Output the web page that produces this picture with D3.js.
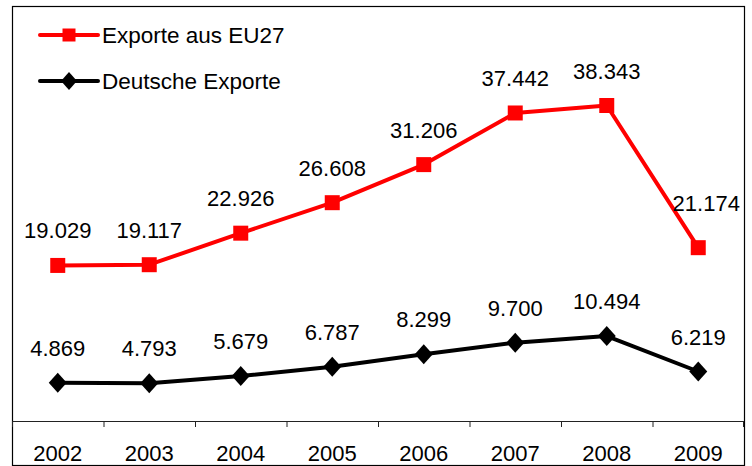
<!DOCTYPE html>
<html>
<head>
<meta charset="utf-8">
<script src="https://cdn.jsdelivr.net/npm/d3@7"></script>
<style>
  body { margin: 0; background: #fff; }
  text { font-family: "Liberation Sans", Arial, sans-serif; fill: #000; }
</style>
</head>
<body>
<script>
const years = ["2002", "2003", "2004", "2005", "2006", "2007", "2008", "2009"];
const euExports = [19.029, 19.117, 22.926, 26.608, 31.206, 37.442, 38.343, 21.174];
const deExports = [4.869, 4.793, 5.679, 6.787, 8.299, 9.700, 10.494, 6.219];
const seriesNames = ["Exporte aus EU27", "Deutsche Exporte"];
const yDomain = [0, 50];

const width = 752, height = 466;
const frameL = 12, frameR = 744, frameT = 6, frameB = 465, axisY = 421;
const fontSize = 22;

const svg = d3.select("body").append("svg")
  .attr("width", width)
  .attr("height", height);

// frame
svg.append("rect")
  .attr("x", frameL + 0.5)
  .attr("y", frameT + 0.5)
  .attr("width", frameR - frameL)
  .attr("height", frameB - frameT)
  .attr("fill", "#fff")
  .attr("stroke", "#000")
  .attr("stroke-width", 1.2);

const x = d3.scaleBand().domain(years).range([frameL, frameR]).padding(0);
const y = d3.scaleLinear().domain(yDomain).range([423, 9]);

const cx = (d, i) => x(years[i]) + x.bandwidth() / 2;

// category axis: line, boundary ticks, labels
svg.append("line")
  .attr("x1", frameL).attr("x2", frameR)
  .attr("y1", axisY + 0.5).attr("y2", axisY + 0.5)
  .attr("stroke", "#222");

const boundaries = years.map(d => x(d)).concat([x.range()[1]]);
svg.selectAll(".tick")
  .data(boundaries)
  .enter()
  .append("line")
  .attr("class", "tick")
  .attr("x1", d => Math.min(d, frameR - 1) + 0.5)
  .attr("x2", d => Math.min(d, frameR - 1) + 0.5)
  .attr("y1", axisY)
  .attr("y2", axisY + 6)
  .attr("stroke", "#222");

svg.selectAll(".year")
  .data(years)
  .enter()
  .append("text")
  .attr("class", "year")
  .attr("x", d => x(d) + x.bandwidth() / 2)
  .attr("y", 461)
  .attr("text-anchor", "middle")
  .style("font-size", fontSize + "px")
  .text(d => d);

const line = d3.line().x(cx).y(d => y(d));
const fmt = d3.format(".3f");

function drawSeries(values, color, marker, nudgeLast) {
  svg.append("path")
    .datum(values)
    .attr("d", line)
    .attr("fill", "none")
    .attr("stroke", color)
    .attr("stroke-width", 4)
    .attr("stroke-linejoin", "round");

  svg.selectAll(null)
    .data(values)
    .enter()
    .append("path")
    .attr("transform", (d, i) => `translate(${cx(d, i)},${y(d)})`)
    .attr("d", marker)
    .attr("fill", color);

  const last = values.length - 1;
  svg.selectAll(null)
    .data(values)
    .enter()
    .append("text")
    .attr("x", (d, i) => cx(d, i) + (nudgeLast && i === last ? 8 : 0))
    .attr("y", (d, i) => y(d) - 27 - (nudgeLast && i === last ? 10 : 0))
    .attr("text-anchor", "middle")
    .style("font-size", fontSize + "px")
    .text(d => fmt(d));
}

const square = s => `M${-s / 2},${-s / 2}h${s}v${s}h${-s}Z`;
const diamond = (w, h) => `M0,${-h}L${w},0L0,${h}L${-w},0Z`;

drawSeries(euExports, "#ff0000", square(15), true);
drawSeries(deExports, "#000000", diamond(9, 10), false);

// legend
const legend = [
  { name: seriesNames[0], color: "#ff0000", marker: square(13), y: 35 },
  { name: seriesNames[1], color: "#000000", marker: diamond(8, 9), y: 81 }
];
legend.forEach(l => {
  svg.append("line")
    .attr("x1", 40).attr("x2", 98)
    .attr("y1", l.y).attr("y2", l.y)
    .attr("stroke", l.color)
    .attr("stroke-width", 4)
    .attr("stroke-linecap", "round");
  svg.append("path")
    .attr("transform", `translate(69,${l.y})`)
    .attr("d", l.marker)
    .attr("fill", l.color);
  svg.append("text")
    .attr("x", 102)
    .attr("y", l.y + 8)
    .style("font-size", "22.5px")
    .text(l.name);
});
</script>
</body>
</html>
